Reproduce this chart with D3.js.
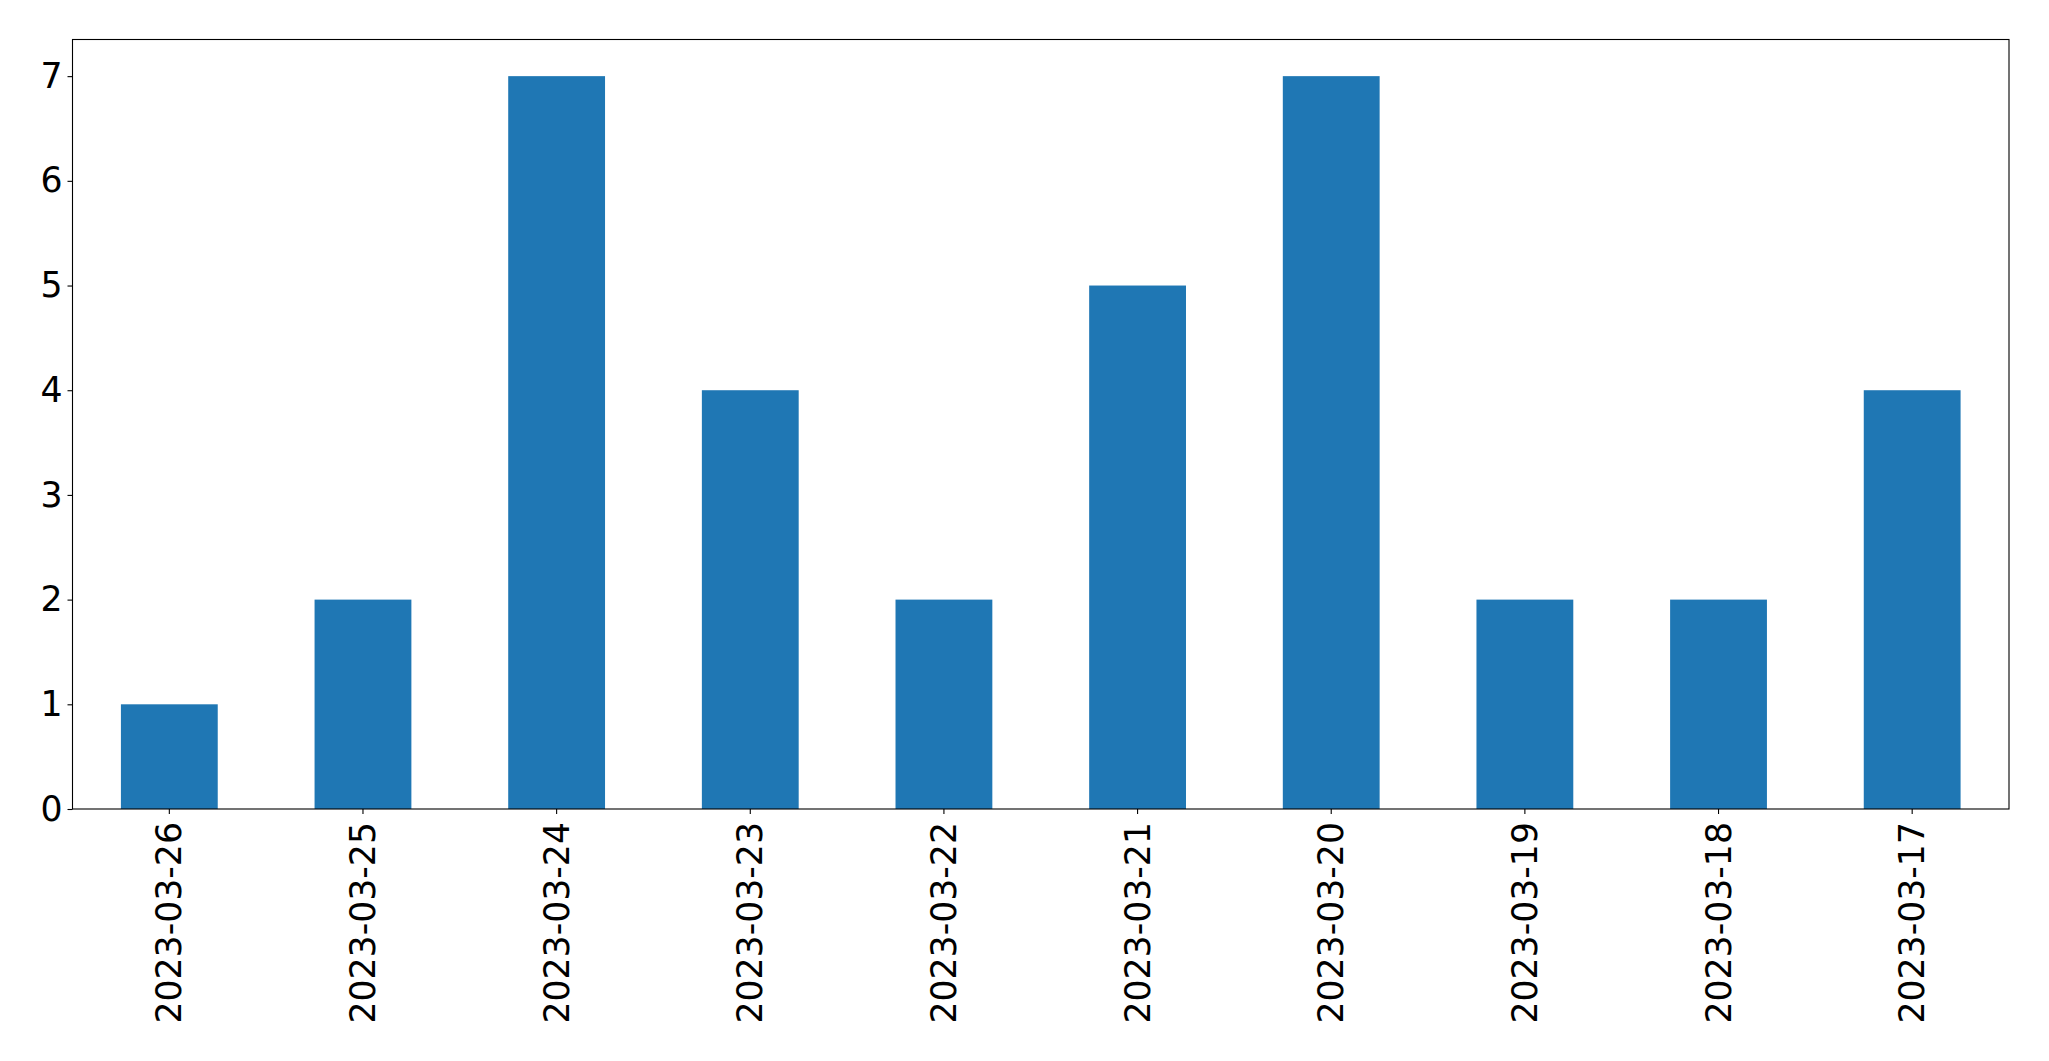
<!DOCTYPE html>
<html>
<head>
<meta charset="utf-8">
<script src="https://cdn.jsdelivr.net/npm/d3@7"></script>
<style>
  body { margin: 0; background: #fff; }
  text { font-family: "DejaVu Sans", sans-serif; }
</style>
</head>
<body>
<div id="chart"></div>
<script>
// data
var dates = ["2023-03-26", "2023-03-25", "2023-03-24", "2023-03-23", "2023-03-22",
             "2023-03-21", "2023-03-20", "2023-03-19", "2023-03-18", "2023-03-17"];
var counts = [1, 2, 7, 4, 2, 5, 7, 2, 2, 4];
var yTicks = [0, 1, 2, 3, 4, 5, 6, 7];

var W = 2049, H = 1061;
var margin = { top: 39.5, right: 40, bottom: 252, left: 72.5 };
var width = W - margin.left - margin.right,
    height = H - margin.top - margin.bottom;
var fontSize = "34.7px";

var svg = d3.select("#chart").append("svg")
    .attr("width", W)
    .attr("height", H);

var g = svg.append("g")
    .attr("transform", "translate(" + margin.left + "," + margin.top + ")");

var x = d3.scaleBand()
    .domain(dates)
    .range([0, width])
    .paddingInner(0.5)
    .paddingOuter(0.25);

var y = d3.scaleLinear()
    .domain([0, d3.max(counts) * 1.05])
    .range([height, 0]);

var data = dates.map(function(d, i) { return { date: d, value: counts[i] }; });

g.selectAll("rect.bar")
    .data(data)
    .enter()
    .append("rect")
    .attr("class", "bar")
    .attr("x", function(d) { return x(d.date); })
    .attr("y", function(d) { return y(d.value); })
    .attr("width", x.bandwidth())
    .attr("height", function(d) { return height - y(d.value); })
    .attr("fill", "#1f77b4");

// y axis
var yAxis = g.append("g")
    .call(d3.axisLeft(y).tickValues(yTicks).tickSize(5).tickPadding(5).tickFormat(d3.format("d")));
yAxis.select(".domain").remove();
yAxis.selectAll("line").attr("stroke", "#000").attr("stroke-width", 1.1);
yAxis.selectAll("text").attr("font-size", fontSize).attr("fill", "#000");

// x axis, labels turned upright
var xAxis = g.append("g")
    .attr("transform", "translate(0," + height + ")")
    .call(d3.axisBottom(x).tickSize(5).tickPadding(5));
xAxis.select(".domain").remove();
xAxis.selectAll("line").attr("stroke", "#000").attr("stroke-width", 1.1);
xAxis.selectAll("text")
    .attr("font-size", fontSize)
    .attr("fill", "#000")
    .attr("text-anchor", "end")
    .attr("dy", "0.35em")
    .attr("x", -13)
    .attr("y", 0)
    .attr("transform", "rotate(-90)");

// frame
g.append("rect")
    .attr("x", 0)
    .attr("y", 0)
    .attr("width", width)
    .attr("height", height)
    .attr("fill", "none")
    .attr("stroke", "#000")
    .attr("stroke-width", 1.1);
</script>
</body>
</html>
